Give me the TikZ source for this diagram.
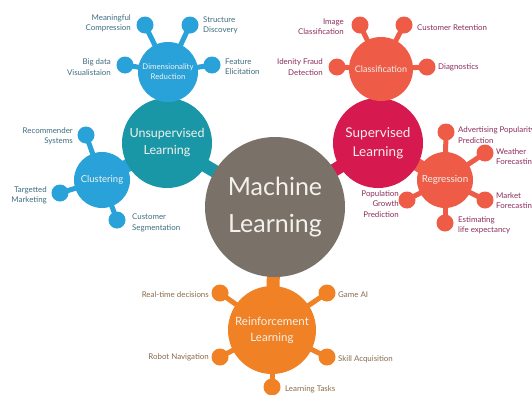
\documentclass[tikz,border=0pt]{standalone}
\usepackage{fontspec}
\setmainfont{Lato}
\usetikzlibrary{backgrounds}
\definecolor{mlgrey}{HTML}{7A7268}
\definecolor{teal}{HTML}{1A97A6}
\definecolor{sky}{HTML}{29A2DA}
\definecolor{crim}{HTML}{D6194F}
\definecolor{coral}{HTML}{EE5B47}
\definecolor{orng}{HTML}{F08124}
\definecolor{bluetxt}{HTML}{3E6E80}
\definecolor{redtxt}{HTML}{8C2E5C}
\definecolor{orgtxt}{HTML}{8A6B4E}
\definecolor{offwhite}{HTML}{F4F1EC}
\begin{document}
\begin{tikzpicture}[x=1pt,y=-1pt,
  hub/.style={circle, inner sep=0pt, text=offwhite, align=center},
  dot/.style={circle, inner sep=0pt, minimum size=17pt},
  lbl/.style={inner sep=0pt, font=\fontsize{7.9}{10.3}\selectfont},
  neck/.style={line width=13pt},
  stalk/.style={line width=5pt}]
\clip (0,0) rectangle (532,394);
% main hubs
\node[hub, fill=mlgrey, minimum size=140pt, font=\fontsize{25}{37}\selectfont] (ml) at (275,207) {Machine\\Learning};
\node[hub, fill=teal, minimum size=90pt, font=\fontsize{12.5}{17}\selectfont] (un) at (167,143) {Unsupervised\\Learning};
\node[hub, fill=crim, minimum size=90pt, font=\fontsize{13.5}{19}\selectfont] (su) at (378,143) {Supervised\\Learning};
\node[hub, fill=orng, minimum size=88pt, font=\fontsize{11.5}{16}\selectfont] (re) at (272,330) {Reinforcement\\Learning};
% sub hubs
\node[hub, fill=sky, minimum size=60pt, font=\fontsize{7.8}{10}\selectfont] (dr) at (168,72) {Dimensionality\\Reduction};
\node[hub, fill=sky, minimum size=56pt, font=\fontsize{9.5}{11}\selectfont] (cl) at (102,180) {Clustering};
\node[hub, fill=coral, minimum size=64pt, font=\fontsize{9}{11}\selectfont] (cf) at (381,69) {Classification};
\node[hub, fill=coral, minimum size=56pt, font=\fontsize{9.8}{11}\selectfont] (rg) at (445,180) {Regression};
% dimensionality satellites
\node[dot, fill=sky] (d1) at (145,25) {};
\node[dot, fill=sky] (d2) at (190,25) {};
\node[dot, fill=sky] (d3) at (125,65) {};
\node[dot, fill=sky] (d4) at (212,65) {};
\node[lbl, text=bluetxt, anchor=east, align=right] (t1) at (131,23) {Meaningful\\Compression};
\node[lbl, text=bluetxt, anchor=west, align=left] (t2) at (203,25) {Structure\\Discovery};
\node[lbl, text=bluetxt, anchor=east, align=right] (t3) at (111,67) {Big data\\Visualistaion};
\node[lbl, text=bluetxt, anchor=west, align=left] (t4) at (225,67) {Feature\\Elicitation};
% clustering satellites
\node[dot, fill=sky] (c1) at (86,135) {};
\node[dot, fill=sky] (c2) at (60,193) {};
\node[dot, fill=sky] (c3) at (117,220) {};
\node[lbl, text=bluetxt, anchor=east, align=right] (t5) at (73,136) {Recommender\\Systems};
\node[lbl, text=bluetxt, anchor=east, align=right] (t6) at (47,195) {Targetted\\Marketing};
\node[lbl, text=bluetxt, anchor=west, align=left] (t7) at (132,223) {Customer\\Segmentation};
% classification satellites
\node[dot, fill=coral] (k1) at (360,25) {};
\node[dot, fill=coral] (k2) at (404,25) {};
\node[dot, fill=coral] (k3) at (337,67) {};
\node[dot, fill=coral] (k4) at (427,67) {};
\node[lbl, text=redtxt, anchor=east, align=right] (t8) at (344,27) {Image\\Classification};
\node[lbl, text=redtxt, anchor=west, align=left] (t9) at (417,28) {Customer Retention};
\node[lbl, text=redtxt, anchor=east, align=right] (t10) at (323,67) {Idenity Fraud\\Detection};
\node[lbl, text=redtxt, anchor=west, align=left] (t11) at (438,67) {Diagnostics};
% regression satellites
\node[dot, fill=coral] (g1) at (446,132) {};
\node[dot, fill=coral] (g2) at (485,153) {};
\node[dot, fill=coral] (g3) at (485,200) {};
\node[dot, fill=coral] (g4) at (445,223) {};
\node[dot, fill=coral] (g5) at (407,200) {};
\node[lbl, text=redtxt, anchor=west, align=left] (t12) at (458,135) {Advertising Popularity\\Prediction};
\node[lbl, text=redtxt, anchor=west, align=left] (t13) at (496,157) {Weather\\Forecasting};
\node[lbl, text=redtxt, anchor=west, align=left] (t14) at (496,201) {Market\\Forecasting};
\node[lbl, text=redtxt, anchor=west, align=left] (t15) at (458,225) {Estimating\\life expectancy};
\node[lbl, text=redtxt, anchor=east, align=right] (t16) at (399,204) {Population\\Growth\\Prediction};
% reinforcement satellites
\node[dot, fill=orng] (r1) at (220,293) {};
\node[dot, fill=orng] (r2) at (327,293) {};
\node[dot, fill=orng] (r3) at (220,357) {};
\node[dot, fill=orng] (r4) at (327,357) {};
\node[dot, fill=orng] (r5) at (272,387) {};
\node[lbl, text=orgtxt, anchor=east] (t17) at (209,295) {Real-time decisions};
\node[lbl, text=orgtxt, anchor=west] (t18) at (338,295) {Game AI};
\node[lbl, text=orgtxt, anchor=east] (t19) at (209,357) {Robot Navigation};
\node[lbl, text=orgtxt, anchor=west] (t20) at (338,359) {Skill Acquisition};
\node[lbl, text=orgtxt, anchor=west] (t21) at (285,389) {Learning Tasks};
% connectors
\begin{scope}[on background layer]
\fill[white] (0,0) rectangle (532,394);
\draw[neck, teal] (ml.center) -- (un.center);
\draw[neck, crim] (ml.center) -- (su.center);
\draw[neck, orng] (ml.center) -- (re.center);
\draw[neck, sky] (dr.center) -- (un.center);
\draw[neck, sky] (cl.center) -- (un.center);
\draw[neck, coral] (cf.center) -- (su.center);
\draw[neck, coral] (rg.center) -- (su.center);
\foreach \s in {d1,d2,d3,d4} \draw[stalk, sky] (\s.center) -- (dr.center);
\foreach \s in {c1,c2,c3} \draw[stalk, sky] (\s.center) -- (cl.center);
\foreach \s in {k1,k2,k3,k4} \draw[stalk, coral] (\s.center) -- (cf.center);
\foreach \s in {g1,g2,g3,g4,g5} \draw[stalk, coral] (\s.center) -- (rg.center);
\foreach \s in {r1,r2,r3,r4,r5} \draw[stalk, orng] (\s.center) -- (re.center);
\end{scope}
\end{tikzpicture}
\end{document}
